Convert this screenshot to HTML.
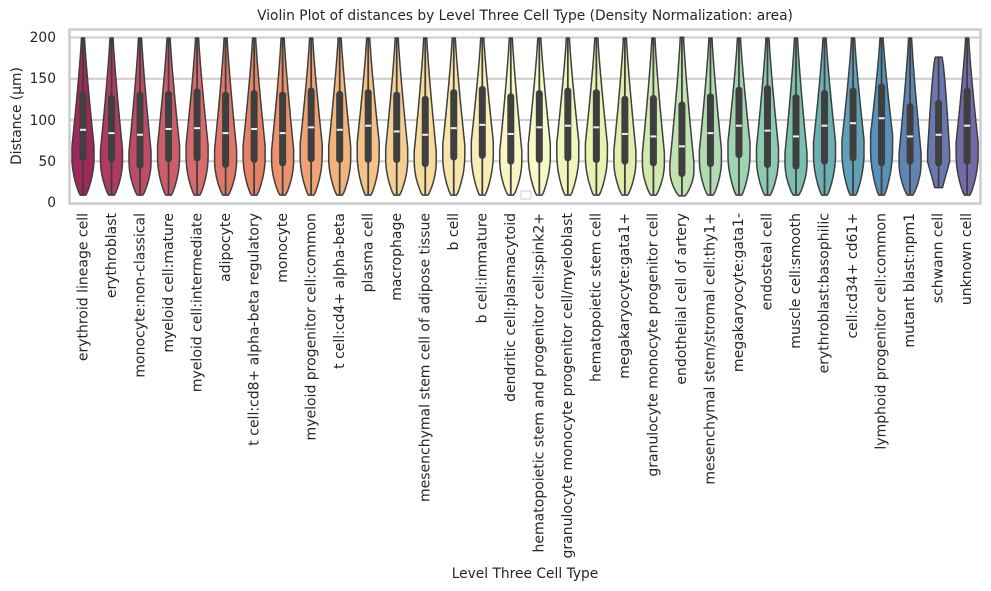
<!DOCTYPE html>
<html><head><meta charset="utf-8"><style>
body{margin:0;background:#fff;}
svg{display:block;font-family:"DejaVu Sans","Liberation Sans",sans-serif;fill:#262626;}
</style></head><body>
<svg id="s" width="991" height="591" viewBox="0 0 991 591" xmlns="http://www.w3.org/2000/svg">
<text x="525" y="20" font-size="13.8" text-anchor="middle">Violin Plot of distances by Level Three Cell Type (Density Normalization: area)</text>
<rect x="69.5" y="29.5" width="911" height="174" fill="#fff" stroke="#cccccc" stroke-width="2.5"/>
<g stroke="#cccccc" stroke-width="2">
<line x1="70" x2="980" y1="37.5" y2="37.5"/><line x1="70" x2="980" y1="78.8" y2="78.8"/>
<line x1="70" x2="980" y1="120" y2="120"/><line x1="70" x2="980" y1="161.3" y2="161.3"/>
</g>
<g font-size="13.8" text-anchor="end">
<text x="56" y="42">200</text><text x="56" y="83">150</text><text x="56" y="125">100</text><text x="56" y="166">50</text><text x="56" y="207">0</text>
</g>
<text transform="translate(21,116) rotate(-90)" font-size="13.8" text-anchor="middle">Distance (µm)</text>
<text x="525" y="578" font-size="13.8" text-anchor="middle">Level Three Cell Type</text>
<g id="v"></g>
<rect x="521" y="191" width="10" height="8" fill="#fff" stroke="#ccc" stroke-width="1"/>
<g font-size="14" text-anchor="end" id="lab">
<text transform="translate(87.5,213) rotate(-90)">erythroid lineage cell</text>
<text transform="translate(116,213) rotate(-90)">erythroblast</text>
<text transform="translate(144.5,213) rotate(-90)">monocyte:non-classical</text>
<text transform="translate(173,213) rotate(-90)">myeloid cell:mature</text>
<text transform="translate(201.5,213) rotate(-90)">myeloid cell:intermediate</text>
<text transform="translate(230,213) rotate(-90)">adipocyte</text>
<text transform="translate(258.5,213) rotate(-90)">t cell:cd8+ alpha-beta regulatory</text>
<text transform="translate(287,213) rotate(-90)">monocyte</text>
<text transform="translate(315.5,213) rotate(-90)">myeloid progenitor cell:common</text>
<text transform="translate(344,213) rotate(-90)">t cell:cd4+ alpha-beta</text>
<text transform="translate(372.5,213) rotate(-90)">plasma cell</text>
<text transform="translate(401,213) rotate(-90)">macrophage</text>
<text transform="translate(429.5,213) rotate(-90)">mesenchymal stem cell of adipose tissue</text>
<text transform="translate(458,213) rotate(-90)">b cell</text>
<text transform="translate(486.5,213) rotate(-90)">b cell:immature</text>
<text transform="translate(515,213) rotate(-90)">dendritic cell:plasmacytoid</text>
<text transform="translate(543.5,213) rotate(-90)">hematopoietic stem and progenitor cell:spink2+</text>
<text transform="translate(572,213) rotate(-90)">granulocyte monocyte progenitor cell/myeloblast</text>
<text transform="translate(600.5,213) rotate(-90)">hematopoietic stem cell</text>
<text transform="translate(629,213) rotate(-90)">megakaryocyte:gata1+</text>
<text transform="translate(657.5,213) rotate(-90)">granulocyte monocyte progenitor cell</text>
<text transform="translate(686,213) rotate(-90)">endothelial cell of artery</text>
<text transform="translate(714.5,213) rotate(-90)">mesenchymal stem/stromal cell:thy1+</text>
<text transform="translate(743,213) rotate(-90)">megakaryocyte:gata1-</text>
<text transform="translate(771.5,213) rotate(-90)">endosteal cell</text>
<text transform="translate(800,213) rotate(-90)">muscle cell:smooth</text>
<text transform="translate(828.5,213) rotate(-90)">erythroblast:basophilic</text>
<text transform="translate(857,213) rotate(-90)">cell:cd34+ cd61+</text>
<text transform="translate(885.5,213) rotate(-90)">lymphoid progenitor cell:common</text>
<text transform="translate(914,213) rotate(-90)">mutant blast:npm1</text>
<text transform="translate(942.5,213) rotate(-90)">schwann cell</text>
<text transform="translate(971,213) rotate(-90)">unknown cell</text>
</g>
</svg>
<script>
(function(){
var sp=["#9e0142","#d53e4f","#f46d43","#fdae61","#fee08b","#ffffbf","#e6f598","#abdda4","#66c2a5","#3288bd","#5e4fa2"];
function h2r(h){return [1,3,5].map(function(i){return parseInt(h.substr(i,2),16)});}
function col(t){var p=t*10,i=Math.min(9,Math.floor(p)),f=p-i,a=h2r(sp[i]),b=h2r(sp[i+1]);
var c=a.map(function(v,k){return v+(b[k]-v)*f;});
var mx=Math.max.apply(0,c),mn=Math.min.apply(0,c),l=(mx+mn)/2;
c=c.map(function(v){return (l+(v-l)*0.85)*0.88+255*0.12;});
return "rgb("+c.map(Math.round).join(",")+")";}
var med=[88,84,82,89,90,84,89,84,91,88,93,86,82,90,94,83,91,93,91,83,80,68,84,93,87,80,93,96,102,80,82,93];
var q1=[55,53,45,53,54,46,52,48,53,52,52,52,47,55,57,50,52,54,52,50,48,35,47,58,46,44,50,54,48,50,48,50];
var q3=[130,126,130,131,134,130,132,130,135,131,133,130,125,133,137,128,132,135,133,125,126,118,128,136,138,127,132,135,140,116,120,135];
var g=document.getElementById("v"),out="";
function Y(v){return 202.5-v*0.826;}
for(var i=0;i<32;i++){
 var x=83+i*28.52,top=(i==30?176:200),bot=(i==30?18:(i==21?8:9)),W=11;
 if(i==21)W=12;
 var pk=med[i]-20, L=[],R=[];
 for(var v=bot;v<=top+0.01;v+=2){
  var d=v<pk?(v-bot)/(pk-bot):(top-v)/(top-pk);
  var w;
  if(v<pk){w=0.25+0.75*Math.pow(Math.sin(Math.PI/2*Math.min(1,d*1.3)),0.8);}
  else{w=0.14+0.86*Math.pow(d,1.2);}
  if(i==30){w=v<pk?0.35+0.65*Math.min(1,d*1.4):0.3+0.7*Math.pow(d,0.7);}
  L.push((x-W*w).toFixed(1)+","+Y(v).toFixed(1));R.unshift((x+W*w).toFixed(1)+","+Y(v).toFixed(1));
 }
 out+='<polygon points="'+L.concat(R).join(" ")+'" fill="'+col(i/31)+'" stroke="#3f3f3f" stroke-width="1.5" stroke-linejoin="round"/>';
 out+='<line x1="'+x+'" x2="'+x+'" y1="'+Y(bot)+'" y2="'+Y(top)+'" stroke="#3f3f3f" stroke-width="1.8"/>';
 out+='<line x1="'+x+'" x2="'+x+'" y1="'+Y(q1[i])+'" y2="'+Y(q3[i])+'" stroke="#3f3f3f" stroke-width="7" stroke-linecap="round"/>';
 out+='<line x1="'+(x-3)+'" x2="'+(x+3)+'" y1="'+Y(med[i])+'" y2="'+Y(med[i])+'" stroke="#f0f0f0" stroke-width="2"/>';
}
g.innerHTML=out;
})();
</script>
</body></html>
